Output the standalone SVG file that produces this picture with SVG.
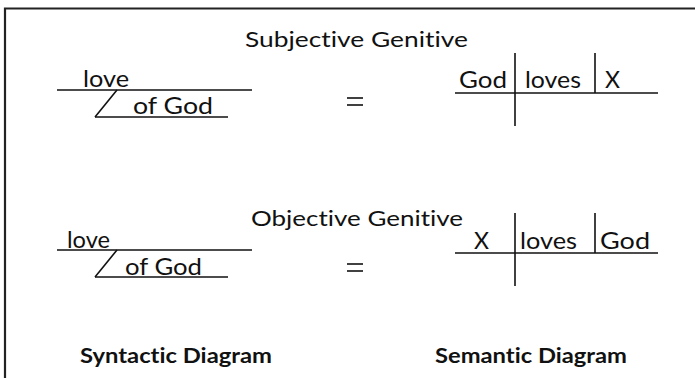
<svg xmlns="http://www.w3.org/2000/svg" width="695" height="378" viewBox="0 0 695 378">
<style>
text{font-variant-ligatures:none;font-feature-settings:"liga" 0}
.t{font-family:Lato,"Open Sans","Liberation Sans",sans-serif;font-size:24px;fill:#111}
.h{font-family:Lato,"Open Sans","Liberation Sans",sans-serif;font-size:22px;fill:#111}
.b{font-family:Lato,"Open Sans","Liberation Sans",sans-serif;font-size:21px;font-weight:bold;fill:#111}
.l{stroke:#111;stroke-width:1.6;fill:none}
.f{stroke:#222;stroke-width:2.2;fill:none}
</style>
<rect width="695" height="378" fill="#fff"/>
<path class="f" d="M5,378 V8.5 H695"/>
<g id="title-subjective"><text class="h" x="245" y="47" textLength="223" lengthAdjust="spacingAndGlyphs">Subjective Genitive</text></g>
<g id="title-objective"><text class="h" x="251" y="226" textLength="212" lengthAdjust="spacingAndGlyphs">Objective Genitive</text></g>
<g id="syntactic-top">
<line class="l" x1="57" y1="90" x2="252" y2="90"/>
<line class="l" x1="117" y1="90" x2="95" y2="117"/>
<line class="l" x1="95" y1="117" x2="228" y2="117"/>
<text class="t" x="83" y="87" textLength="46" lengthAdjust="spacingAndGlyphs">love</text>
<text class="t" x="133" y="114" textLength="80" lengthAdjust="spacingAndGlyphs">of God</text>
</g>
<g id="equals-top"><line class="l" x1="347" y1="98" x2="363" y2="98"/><line class="l" x1="347" y1="105" x2="363" y2="105"/></g>
<g id="semantic-top">
<line class="l" x1="455" y1="93" x2="658" y2="93"/>
<line class="l" x1="515" y1="53" x2="515" y2="126"/>
<line class="l" x1="595" y1="53" x2="595" y2="93"/>
<text class="t" x="459" y="88" textLength="48" lengthAdjust="spacingAndGlyphs">God</text>
<text class="t" x="525" y="88" textLength="56" lengthAdjust="spacingAndGlyphs">loves</text>
<text class="t" x="605" y="88" textLength="15" lengthAdjust="spacingAndGlyphs">X</text>
</g>
<g id="syntactic-bottom">
<line class="l" x1="57" y1="250" x2="252" y2="250"/>
<line class="l" x1="117" y1="250" x2="95" y2="277"/>
<line class="l" x1="95" y1="277" x2="228" y2="277"/>
<text class="t" x="67" y="248" textLength="43" lengthAdjust="spacingAndGlyphs">love</text>
<text class="t" x="125" y="275" textLength="77" lengthAdjust="spacingAndGlyphs">of God</text>
</g>
<g id="equals-bottom"><line class="l" x1="347" y1="264" x2="363" y2="264"/><line class="l" x1="347" y1="271" x2="363" y2="271"/></g>
<g id="semantic-bottom">
<line class="l" x1="455" y1="253" x2="658" y2="253"/>
<line class="l" x1="515" y1="213" x2="515" y2="286"/>
<line class="l" x1="595" y1="213" x2="595" y2="253"/>
<text class="t" x="474" y="249" textLength="15" lengthAdjust="spacingAndGlyphs">X</text>
<text class="t" x="520" y="249" textLength="57" lengthAdjust="spacingAndGlyphs">loves</text>
<text class="t" x="600" y="249" textLength="50" lengthAdjust="spacingAndGlyphs">God</text>
</g>
<g id="label-syntactic"><text class="b" x="80" y="363" textLength="192" lengthAdjust="spacingAndGlyphs">Syntactic Diagram</text></g>
<g id="label-semantic"><text class="b" x="435" y="363" textLength="192" lengthAdjust="spacingAndGlyphs">Semantic Diagram</text></g>
</svg>
